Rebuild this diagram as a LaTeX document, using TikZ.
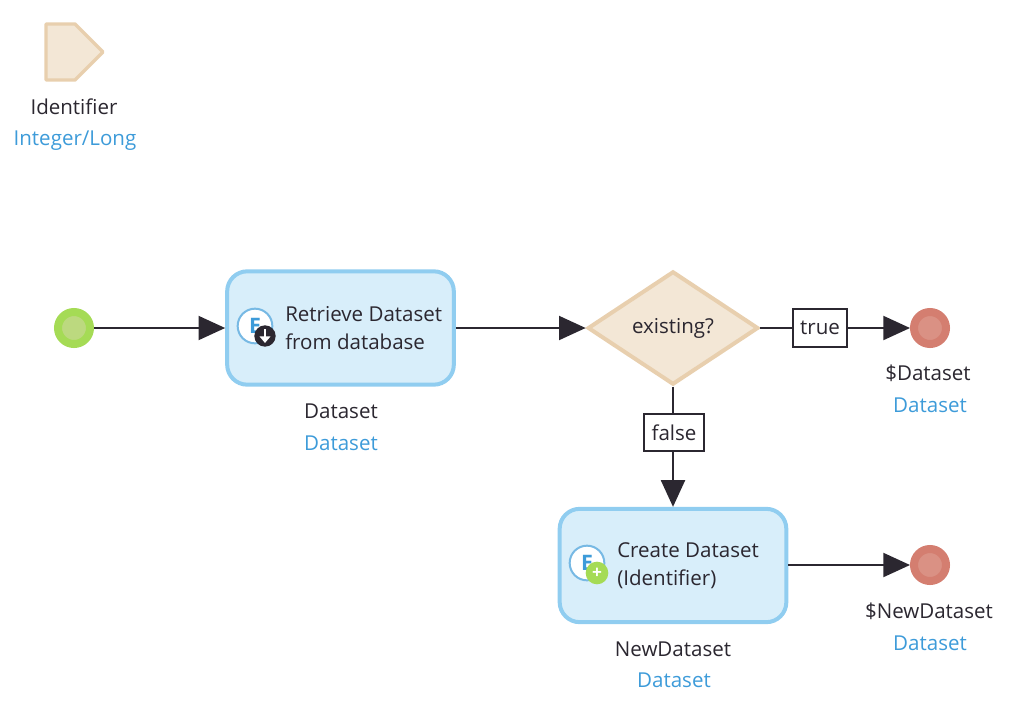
\documentclass[tikz,border=0pt]{standalone}
\usepackage{fontspec}
\setmainfont{Open Sans}
\usetikzlibrary{shapes.geometric,arrows.meta}
\definecolor{mxdark}{HTML}{2B2730}
\definecolor{mxblue}{HTML}{3D9BD9}
\definecolor{mxborder}{HTML}{90CDF0}
\definecolor{mxfill}{HTML}{D8EEFA}
\definecolor{mxtan}{HTML}{E8CFAE}
\definecolor{mxtanfill}{HTML}{F3E7D6}
\definecolor{mxgreen}{HTML}{A5DB55}
\definecolor{mxgreenin}{HTML}{BCD97F}
\definecolor{mxred}{HTML}{D47E70}
\definecolor{mxredin}{HTML}{DA9184}
\tikzset{
	txt/.style={font=\fontsize{15.4pt}{21pt}\selectfont, text=mxdark, inner sep=0pt},
	typ/.style={txt, text=mxblue},
	flow/.style={draw=mxdark, line width=1.5pt},
	arrow/.style={flow, -{Triangle[length=20pt, width=18pt]}},
	activity/.style={draw=mxborder, fill=mxfill, line width=3pt, rounded corners=15pt, minimum width=170pt, minimum height=85pt},
	case/.style={draw=mxdark, line width=1.5pt, fill=white, inner sep=0pt, minimum height=28pt, txt},
	terminal/.style={circle, line width=6pt, minimum size=24pt, inner sep=0pt},
	icon/.style={circle, draw=mxblue!70, fill=white, line width=1.5pt, minimum size=26pt, inner sep=0pt, text=mxblue, font=\fontsize{16pt}{16pt}\selectfont\bfseries},
	badge/.style={circle, inner sep=0pt, minimum size=16pt}
}
\begin{document}
\begin{tikzpicture}[x=0.75pt, y=-0.75pt]
	\useasboundingbox (0, 0) rectangle (1024, 711);
	% parameter
	\draw[draw=mxtan, fill=mxtanfill, line width=2.6pt, line join=round] (46, 24) -- (75, 24) -- (103, 52) -- (75, 80) -- (46, 80) -- cycle;
	\node[txt] (paramname) at (74, 107) {Identifier};
	\node[typ] (paramtype) at (75, 141) {Integer/Long};
	% events
	\node[terminal, draw=mxgreen, fill=mxgreenin] (start) at (74, 328) {};
	\node[terminal, draw=mxred, fill=mxredin] (endtrue) at (930, 328) {};
	\node[terminal, draw=mxred, fill=mxredin] (endfalse) at (930, 565) {};
	% activities
	\node[activity] (retrieve) at (340.5, 328) {};
	\node[activity] (create) at (673, 565.5) {};
	\node[icon] (retrieveicon) at (255, 326) {E};
	\node[badge, fill=mxdark] (retrievebadge) at (265, 336) {};
	\draw[white, line width=1.8pt, -{Triangle[length=5pt, width=8pt]}] (265, 329) -- (265, 343);
	\node[icon] (createicon) at (587, 563) {E};
	\node[badge, fill=mxgreen, minimum size=17pt] (createbadge) at (597, 573) {\textcolor{white}{\fontsize{13pt}{13pt}\selectfont\bfseries +}};
	\node[txt, anchor=west, align=left] (retrievetext) at (285, 328) {Retrieve Dataset\\from database};
	\node[txt, anchor=west, align=left] (createtext) at (617, 566) {Create Dataset\\(Identifier)};
	% decision
	\node[diamond, draw=mxtan, fill=mxtanfill, line width=3pt, inner sep=0pt, minimum width=128pt, minimum height=85pt, txt] (decision) at (673, 328) {existing?};
	\node[case, minimum width=40pt] (casetrue) at (820, 328) {true};
	\node[case, minimum width=45pt] (casefalse) at (674, 432.5) {false};
	% connectors
	\draw[arrow] (start) -- (retrieve);
	\draw[arrow] (retrieve) -- (decision);
	\draw[flow] (decision) -- (casetrue);
	\draw[arrow] (casetrue) -- (endtrue);
	\draw[flow] (decision) -- (decision |- casefalse.north);
	\draw[arrow] (decision |- casefalse.south) -- (decision |- create.north);
	\draw[arrow] (create.east |- endfalse) -- (endfalse);
	% labels
	\node[txt] (retrievename) at (341, 411) {Dataset};
	\node[typ] (retrievetype) at (341, 443) {Dataset};
	\node[txt] (endtruename) at (928, 373) {\$Dataset};
	\node[typ] (endtruetype) at (930, 405) {Dataset};
	\node[txt] (createname) at (673, 649) {NewDataset};
	\node[typ] (createtype) at (674, 680) {Dataset};
	\node[txt] (endfalsename) at (929, 611) {\$NewDataset};
	\node[typ] (endfalsetype) at (930, 643) {Dataset};
\end{tikzpicture}
\end{document}
